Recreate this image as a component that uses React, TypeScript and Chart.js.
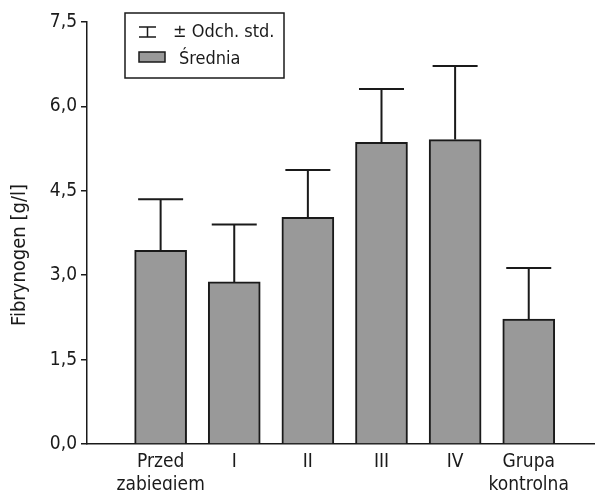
import React, { useEffect, useRef } from "react";
import { Chart, registerables } from "chart.js";

Chart.register(...registerables);

const categories: (string | string[])[] = [["Przed", "zabiegiem"], "I", "II", "III", "IV", ["Grupa", "kontrolna"]];
const means = [3.44, 2.88, 4.03, 5.36, 5.41, 2.22];
const sds = [0.91, 1.02, 0.84, 0.95, 1.31, 0.91];
const yTicks = [0, 1.5, 3.0, 4.5, 6.0, 7.5];
const legendLabels = ["± Odch. std.", "Średnia"];
const yTitle = "Fibrynogen [g/l]";

const FONT = "'Liberation Sans Narrow', 'DejaVu Sans Condensed', Arial, sans-serif";
const INK = "#1a1a1a";
const BAR = "#999999";

const errorBarPlugin = {
  id: "errorBars",
  afterDatasetsDraw(chart: any) {
    const ctx = chart.ctx;
    const meta = chart.getDatasetMeta(0);
    const yScale = chart.scales.y;
    ctx.save();
    ctx.strokeStyle = INK;
    ctx.lineWidth = 2;
    meta.data.forEach((el: any, i: number) => {
      const x = el.x;
      const yTop = yScale.getPixelForValue(means[i] + sds[i]);
      const yMid = el.y;
      ctx.beginPath();
      ctx.moveTo(x, yMid);
      ctx.lineTo(x, yTop);
      ctx.moveTo(x - 22.5, yTop);
      ctx.lineTo(x + 22.5, yTop);
      ctx.stroke();
    });
    ctx.restore();
  },
};

const titlePlugin = {
  id: "yTitleText",
  afterDraw(chart: any) {
    const ctx = chart.ctx;
    const { top, bottom } = chart.chartArea;
    ctx.save();
    ctx.translate(20, (top + bottom) / 2 + 22);
    ctx.rotate(-Math.PI / 2);
    ctx.fillStyle = INK;
    ctx.font = `20px ${FONT}`;
    ctx.textAlign = "center";
    ctx.textBaseline = "middle";
    ctx.fillText(yTitle, 0, 0);
    ctx.restore();
  },
};

const legendPlugin = {
  id: "customLegend",
  afterDraw(chart: any) {
    const ctx = chart.ctx;
    const { left, top } = chart.chartArea;
    const bx = left + 38;
    const by = top - 9;
    ctx.save();
    ctx.fillStyle = "#fff";
    ctx.strokeStyle = INK;
    ctx.lineWidth = 1.5;
    ctx.fillRect(bx, by, 159, 65);
    ctx.strokeRect(bx, by, 159, 65);
    ctx.beginPath();
    ctx.moveTo(bx + 14, by + 14);
    ctx.lineTo(bx + 31, by + 14);
    ctx.moveTo(bx + 22.5, by + 14);
    ctx.lineTo(bx + 22.5, by + 24);
    ctx.moveTo(bx + 14, by + 24);
    ctx.lineTo(bx + 31, by + 24);
    ctx.stroke();
    ctx.fillStyle = BAR;
    ctx.fillRect(bx + 14, by + 39, 26, 10);
    ctx.strokeRect(bx + 14, by + 39, 26, 10);
    ctx.fillStyle = INK;
    ctx.font = `18px ${FONT}`;
    ctx.textBaseline = "middle";
    ctx.textAlign = "left";
    ctx.fillText(legendLabels[0], bx + 48, by + 19);
    ctx.fillText(legendLabels[1], bx + 54, by + 46);
    ctx.restore();
  },
};

export default function App() {
  const ref = useRef<HTMLCanvasElement>(null);
  useEffect(() => {
    if (!ref.current) return;
    const chart = new Chart(ref.current, {
      type: "bar",
      data: {
        datasets: [
          {
            data: means.map((v, i) => ({ x: i, y: v })),
            backgroundColor: BAR,
            borderColor: INK,
            borderWidth: 2,
            barThickness: 52,
          } as any,
        ],
      },
      options: {
        animation: false,
        responsive: false,
        layout: { padding: { left: 0, right: 0, top: 22, bottom: 0 } },
        plugins: { legend: { display: false }, tooltip: { enabled: false } },
        scales: {
          x: {
            type: "linear",
            offset: false,
            min: -1,
            max: 5.9,
            grid: { display: false, drawTicks: false },
            border: { display: true, color: INK, width: 1.5 },
            afterBuildTicks: (s: any) => {
              s.ticks = categories.map((_, i) => ({ value: i }));
            },
            afterFit: (s: any) => {
              s.height = 46;
            },
            ticks: {
              autoSkip: false,
              maxRotation: 0,
              padding: 7,
              color: INK,
              font: { family: FONT, size: 19, lineHeight: 1.2 },
              callback: (v: any) => categories[v as number],
            },
          },
          y: {
            min: 0,
            max: 7.5,
            afterBuildTicks: (s: any) => {
              s.ticks = yTicks.map((v) => ({ value: v }));
            },
            afterFit: (s: any) => {
              s.width = 87;
            },
            grid: { drawOnChartArea: false, drawTicks: true, tickLength: 6, color: INK, lineWidth: 1.5 },
            border: { display: true, color: INK, width: 1.5 },
            ticks: {
              padding: 4,
              color: INK,
              font: { family: FONT, size: 19 },
              callback: (v: any) => Number(v).toFixed(1).replace(".", ","),
            },
          },
        },
      },
      plugins: [errorBarPlugin, legendPlugin, titlePlugin],
    });
    return () => chart.destroy();
  }, []);
  return (
    <div style={{ position: "fixed", left: 0, top: 0, width: 595, height: 490, background: "#fff" }}>
      <canvas ref={ref} width={595} height={490} />
    </div>
  );
}
